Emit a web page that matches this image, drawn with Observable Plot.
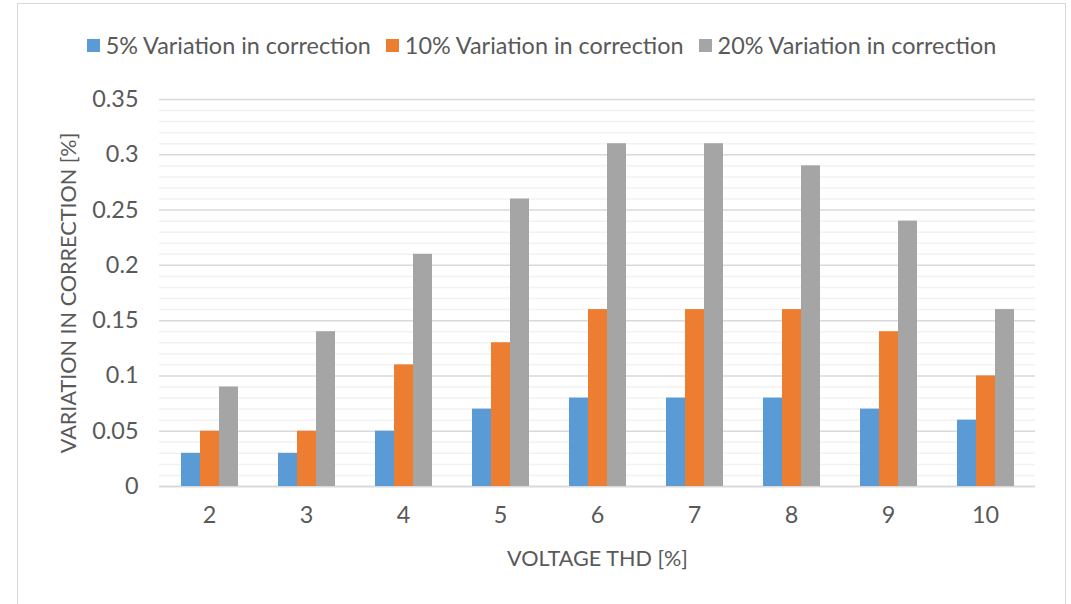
<!DOCTYPE html>
<html>
<head>
<meta charset="utf-8">
<script src="https://cdn.jsdelivr.net/npm/d3@7"></script>
<script src="https://cdn.jsdelivr.net/npm/@observablehq/plot@0.6"></script>
<style>
  html, body { margin: 0; padding: 0; background: #fff; }
  #wrap { position: relative; width: 1071px; height: 604px; overflow: hidden; font-family: Lato, "Open Sans", sans-serif; color: #595959; }
  #frame { position: absolute; left: 17px; top: 3px; width: 1049px; height: 640px; border: 1px solid #d9d9d9; box-sizing: border-box; }
  #legend { position: absolute; left: 17px; width: 1049px; top: 30px; display: flex; justify-content: center; gap: 15px; font-size: 23.4px; line-height: 30px; }
  #legend .item { display: flex; align-items: center; gap: 6px; white-space: nowrap; }
  #legend .sw { width: 13px; height: 13px; display: inline-block; }
  .layer { position: absolute; left: 0; top: 70px; }
</style>
</head>
<body>
<div id="wrap">
  <div id="frame"></div>
  <div id="legend"></div>
  <div id="back" class="layer"></div>
  <div id="front" class="layer"></div>
</div>
<script>
const thd = ["2", "3", "4", "5", "6", "7", "8", "9", "10"];
const seriesNames = ["5% Variation in correction", "10% Variation in correction", "20% Variation in correction"];
const seriesColors = ["#5B9BD5", "#ED7D31", "#A5A5A5"];
const v5  = [0.03, 0.03, 0.05, 0.07, 0.08, 0.08, 0.08, 0.07, 0.06];
const v10 = [0.05, 0.05, 0.11, 0.13, 0.16, 0.16, 0.16, 0.14, 0.10];
const v20 = [0.09, 0.14, 0.21, 0.26, 0.31, 0.31, 0.29, 0.24, 0.16];
const majorTicks = [0, 0.05, 0.1, 0.15, 0.2, 0.25, 0.3, 0.35];
const minorTicks = [0.01,0.02,0.03,0.04,0.06,0.07,0.08,0.09,0.11,0.12,0.13,0.14,0.16,0.17,0.18,0.19,0.21,0.22,0.23,0.24,0.26,0.27,0.28,0.29,0.31,0.32,0.33,0.34];
const xTitle = "VOLTAGE THD [%]";
const yTitle = "VARIATION IN CORRECTION [%]";

const seriesValues = [v5, v10, v20];
const data = [];
thd.forEach((t, i) => seriesNames.forEach((s, j) => data.push({thd: t, series: s, value: seriesValues[j][i]})));

// legend
const legend = document.getElementById("legend");
seriesNames.forEach((s, j) => {
  const it = document.createElement("span");
  it.className = "item";
  const sw = document.createElement("span");
  sw.className = "sw";
  sw.style.background = seriesColors[j];
  const tx = document.createElement("span");
  tx.textContent = s;
  it.append(sw, tx);
  legend.append(it);
});

const fmt = d => String(+d.toFixed(2));
const common = {
  width: 1071,
  height: 534,
  marginTop: 29,
  marginBottom: 118,
  marginLeft: 159,
  marginRight: 36,
  style: { fontFamily: "Lato, 'Open Sans', sans-serif", fontSize: "23.4px", color: "#595959", background: "transparent", overflow: "visible" }
};
const band = { domain: thd, paddingInner: 0.4, paddingOuter: 0.17 };

// background layer: grid lines, axes and axis titles
const back = Plot.plot({
  ...common,
  x: { ...band, axis: null },
  y: { domain: [0, 0.35], axis: null },
  marks: [
    Plot.ruleY(minorTicks, { stroke: "#f2f2f2", strokeWidth: 1.5 }),
    Plot.ruleY(majorTicks.slice(1), { stroke: "#d9d9d9", strokeWidth: 1.5 }),
    Plot.ruleY([0], { stroke: "#d9d9d9", strokeWidth: 2 }),
    Plot.axisY(majorTicks, { tickSize: 0, tickPadding: 21, tickFormat: fmt, label: null }),
    Plot.axisX({ anchor: "bottom", tickSize: 0, tickPadding: 20, label: null }),
    Plot.text([yTitle], { text: d => d, frameAnchor: "left", textAnchor: "middle", lineAnchor: "middle", rotate: -90, dx: -90, fontSize: 21.6, fill: "#595959" }),
    Plot.text([xTitle], { text: d => d, frameAnchor: "bottom", textAnchor: "middle", lineAnchor: "middle", dy: 73, fontSize: 21.6, fill: "#595959" })
  ]
});
document.getElementById("back").append(back);

// front layer: grouped bars
const front = Plot.plot({
  ...common,
  fx: { ...band, axis: null },
  x: { domain: seriesNames, axis: null, padding: 0 },
  y: { domain: [0, 0.35], axis: null },
  color: { domain: seriesNames, range: seriesColors },
  marks: [
    Plot.barY(data, { fx: "thd", x: "series", y: "value", fill: "series" })
  ]
});
document.getElementById("front").append(front);
</script>
</body>
</html>
